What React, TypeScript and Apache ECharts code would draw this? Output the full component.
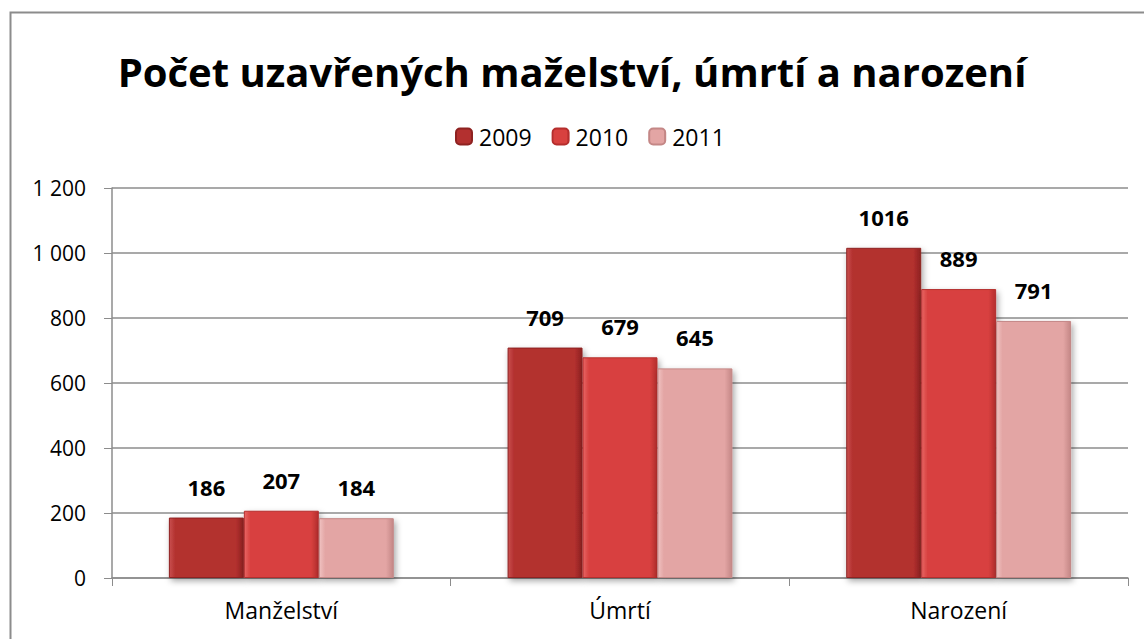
import React, { useEffect, useRef } from "react";
import * as echarts from "echarts";

const categories = ["Manželství", "Úmrtí", "Narození"];
const years = ["2009", "2010", "2011"];
const values2009 = [186, 709, 1016];
const values2010 = [207, 679, 889];
const values2011 = [184, 645, 791];
const yTicks = [0, 200, 400, 600, 800, 1000, 1200];

const baseColors = ["#b3302f", "#d8413f", "#e3a5a4"];
const lightColors = ["#c9504f", "#e86665", "#f0c2c1"];
const darkColors = ["#8e2221", "#b52e2d", "#c48786"];

const FONT = "'Open Sans', 'Noto Sans', sans-serif";

function fill(i: number) {
  return new echarts.graphic.LinearGradient(0, 0, 1, 0, [
    { offset: 0, color: lightColors[i] },
    { offset: 0.08, color: baseColors[i] },
    { offset: 0.9, color: baseColors[i] },
    { offset: 1, color: darkColors[i] },
  ]);
}

export default function App() {
  const ref = useRef<HTMLDivElement>(null);
  useEffect(() => {
    document.body.style.margin = "0";
    const chart = echarts.init(ref.current!, null, { renderer: "svg" });
    const all = [values2009, values2010, values2011];
    chart.setOption({
      animation: false,
      backgroundColor: "#ffffff",
      title: {
        text: "Počet uzavřených mažel\u00adství, úmrtí a narození".replace("\u00ad", ""),
        left: "center",
        top: 46,
        textStyle: { fontFamily: FONT, fontWeight: "bold", fontSize: 40, color: "#000" },
      },
      graphic: [
        {
          type: "rect",
          shape: { x: 10.5, y: 12.5, width: 1200, height: 700 },
          style: { fill: "none", stroke: "#8c8c8c", lineWidth: 2 },
          silent: true,
          z: 100,
        },
      ],
      legend: {
        top: 120,
        left: 450,
        itemWidth: 16,
        itemHeight: 16,
        itemGap: 20,
        textStyle: { fontFamily: FONT, fontSize: 23, color: "#000", padding: [0, 0, 0, 2] },
        data: years,
      },
      grid: { left: 112, right: 16, top: 188, bottom: 61, containLabel: false },
      xAxis: {
        type: "category",
        data: categories,
        axisLine: { lineStyle: { color: "#8c8c8c", width: 1.5 } },
        axisTick: { show: true, length: 8, alignWithLabel: false, lineStyle: { color: "#8c8c8c" } },
        axisLabel: { fontFamily: FONT, fontSize: 23, color: "#000", margin: 20 },
      },
      yAxis: {
        type: "value",
        min: 0,
        max: 1200,
        interval: 200,
        axisLine: { show: true, lineStyle: { color: "#8c8c8c", width: 1.5 } },
        axisTick: { show: true, length: 8, lineStyle: { color: "#8c8c8c" } },
        splitLine: { lineStyle: { color: "#8c8c8c", width: 1.5 } },
        axisLabel: {
          fontFamily: FONT,
          fontSize: 21,
          color: "#000",
          margin: 26,
          formatter: (v: number) => (yTicks.includes(v) ? String(v).replace(/\B(?=(\d{3})+(?!\d))/g, " ") : ""),
        },
      },
      series: years.map((y, i) => ({
        name: y,
        type: "bar",
        data: all[i],
        barGap: "0%",
        barCategoryGap: "33.6%",
        itemStyle: {
          color: fill(i),
          borderColor: darkColors[i],
          borderWidth: 1,
          shadowColor: "rgba(0,0,0,0.35)",
          shadowBlur: 6,
          shadowOffsetX: 2,
          shadowOffsetY: 3,
        },
        label: {
          show: true,
          position: "top",
          distance: 20,
          fontFamily: FONT,
          fontWeight: "bold",
          fontSize: 22,
          color: "#000",
        },
      })),
      color: baseColors,
    });
    return () => chart.dispose();
  }, []);
  return <div ref={ref} style={{ width: 1144, height: 639 }} />;
}
